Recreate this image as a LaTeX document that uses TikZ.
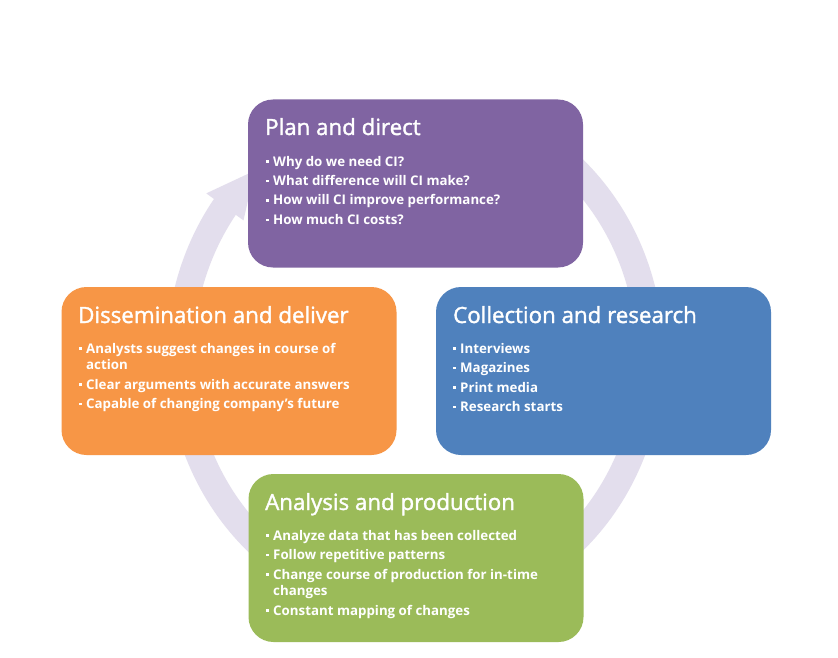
\documentclass[tikz,border=0pt]{standalone}
\usepackage{fontspec}
\setmainfont{Open Sans}
\newfontfamily\titlefont[FakeBold=1.6]{Open Sans}
\definecolor{cpurple}{HTML}{8064A2}
\definecolor{corange}{HTML}{F79646}
\definecolor{cblue}{HTML}{4F81BD}
\definecolor{cgreen}{HTML}{9BBB59}
\definecolor{carc}{HTML}{E3DEED}
\newcommand\bsq{\makebox[7pt][l]{\rule[3.4pt]{2.6pt}{2.6pt}}}
\newcommand\itm[1]{\par\vspace{3pt}\bsq #1}
\newcommand\cont{\newline\hspace*{7pt}}
\tikzset{
  cbox/.style={rounded corners=25pt, minimum width=335pt, minimum height=168pt, inner sep=0pt},
  ctitle/.style={anchor=base west, inner sep=0pt, text=white, font=\titlefont\fontsize{22.3}{26}\selectfont},
  clist/.style={anchor=base west, inner sep=0pt, text=white, font=\fontsize{13.3}{16.5}\selectfont\bfseries}
}
\begin{document}
\begin{tikzpicture}[x=1pt,y=-1pt]
\useasboundingbox (0,0) rectangle (838,658);
\fill[white] (0,0) rectangle (838,658);
% circular arrow
\fill[carc]
  plot[domain=0:286,samples=200] ({415+(235+13.5)*cos(70-\x)},{355-(252+13.5)*sin(70-\x)})
  -- ({415+(235+23)*cos(144)},{355-(252+23)*sin(144)})
  -- ({415+235*cos(133)},{355-252*sin(133)})
  -- ({415+(235-23)*cos(144)},{355-(252-23)*sin(144)})
  -- plot[domain=0:286,samples=200] ({415+(235-13.5)*cos(-216+\x)},{355-(252-13.5)*sin(-216+\x)})
  -- cycle;
% boxes
\node[cbox, fill=cpurple] (plan) at (415.5,183.5) {};
\node[cbox, fill=corange] (diss) at (229,371) {};
\node[cbox, fill=cblue] (coll) at (603.5,371) {};
\node[cbox, fill=cgreen] (anal) at (416,558) {};
% texts
\node[ctitle] (plant) at (265,135) {Plan and direct};
\node[clist] (planl) at (266,166) {\parbox[t]{310pt}{\bsq Why do we need CI?\itm{What difference will CI make?}\itm{How will CI improve performance?}\itm{How much CI costs?}}};
\node[ctitle] (disst) at (78,323) {Dissemination and deliver};
\node[clist] (dissl) at (79,353) {\parbox[t]{310pt}{\bsq Analysts suggest changes in course of\cont action\itm{Clear arguments with accurate answers}\itm{Capable of changing company's future}}};
\node[ctitle] (collt) at (453,323) {Collection and research};
\node[clist] (colll) at (453,353) {\parbox[t]{310pt}{\bsq Interviews\itm{Magazines}\itm{Print media}\itm{Research starts}}};
\node[ctitle] (analt) at (265,510) {Analysis and production};
\node[clist] (anall) at (266,540) {\parbox[t]{310pt}{\bsq Analyze data that has been collected\itm{Follow repetitive patterns}\itm{Change course of production for in-time\cont changes}\itm{Constant mapping of changes}}};
\end{tikzpicture}
\end{document}
